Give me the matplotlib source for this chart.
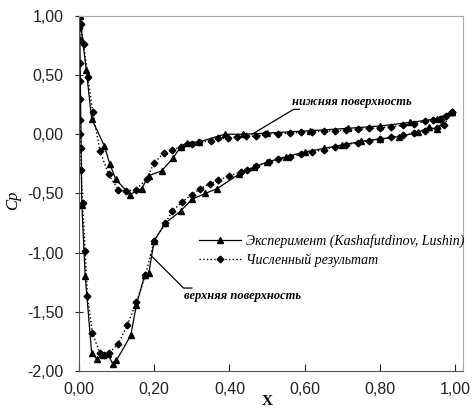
import matplotlib
matplotlib.use("Agg")
import matplotlib.pyplot as plt
from matplotlib.ticker import FuncFormatter, MultipleLocator

# эксперимент, нижняя поверхность
exp_low_x = [0.002, 0.02, 0.034, 0.068, 0.082, 0.098, 0.135, 0.167, 0.185, 0.22, 0.25,
             0.27, 0.286, 0.32, 0.387, 0.437, 0.50, 0.615, 0.715, 0.80, 0.88, 0.95, 0.99]
exp_low_y = [1.0, 0.54, 0.13, -0.10, -0.25, -0.38, -0.51, -0.46, -0.35, -0.31, -0.20,
             -0.11, -0.07, -0.065, 0.0, 0.0, 0.01, 0.03, 0.05, 0.07, 0.10, 0.13, 0.19]

# эксперимент, верхняя поверхность
exp_up_x = [0.002, 0.008, 0.017, 0.034, 0.048, 0.063, 0.077, 0.09, 0.10, 0.138, 0.153, 0.175,
            0.186, 0.2, 0.23, 0.27, 0.30, 0.336, 0.367, 0.424, 0.464, 0.50, 0.55, 0.60, 0.65,
            0.70, 0.75, 0.80, 0.85, 0.90, 0.93, 0.95, 0.99]
exp_up_y = [1.0, -0.6, -1.20, -1.845, -1.90, -1.87, -1.86, -1.94, -1.91, -1.70, -1.44, -1.19,
            -1.17, -0.90, -0.75, -0.65, -0.55, -0.50, -0.46, -0.34, -0.28, -0.235, -0.19, -0.15,
            -0.12, -0.09, -0.06, -0.04, -0.02, 0.015, 0.06, 0.04, 0.19]

# численный результат, нижняя поверхность
num_low_x = [0.0, 0.005, 0.013, 0.024, 0.037, 0.056, 0.079, 0.105, 0.125, 0.151, 0.18, 0.20,
             0.226, 0.248, 0.27, 0.30, 0.32, 0.35, 0.37, 0.395, 0.42, 0.445, 0.47, 0.495, 0.53,
             0.56, 0.59, 0.62, 0.65, 0.68, 0.71, 0.74, 0.77, 0.80, 0.83, 0.86, 0.89, 0.92,
             0.94, 0.96, 0.975, 0.99]
num_low_y = [1.0, 0.93, 0.76, 0.48, 0.19, -0.14, -0.34, -0.47, -0.48, -0.47, -0.38, -0.24,
             -0.16, -0.13, -0.11, -0.08, -0.065, -0.057, -0.035, -0.035, -0.02, -0.018, -0.015,
             0.0, 0.005, 0.01, 0.015, 0.02, 0.025, 0.03, 0.035, 0.04, 0.05, 0.055, 0.065, 0.075,
             0.09, 0.11, 0.12, 0.13, 0.15, 0.19]

# численный результат, верхняя поверхность
num_up_x = [0.0, 0.001, 0.002, 0.002, 0.003, 0.003, 0.004, 0.004, 0.005, 0.006, 0.01, 0.017,
            0.023, 0.036, 0.056, 0.067, 0.08, 0.105, 0.129, 0.153, 0.177, 0.2, 0.23, 0.248,
            0.275, 0.30, 0.323, 0.347, 0.37, 0.40, 0.43, 0.447, 0.47, 0.504, 0.53, 0.56, 0.59,
            0.62, 0.65, 0.68, 0.71, 0.74, 0.77, 0.80, 0.83, 0.86, 0.89, 0.92, 0.95, 0.97, 0.99]
num_up_y = [1.0, 0.9, 0.8, 0.6, 0.45, 0.3, 0.12, 0.0, -0.12, -0.3, -0.585, -0.99,
            -1.37, -1.68, -1.85, -1.865, -1.85, -1.77, -1.61, -1.42, -1.19, -0.90, -0.75, -0.65,
            -0.57, -0.51, -0.46, -0.42, -0.39, -0.35, -0.32, -0.30, -0.27, -0.235, -0.21, -0.19,
            -0.17, -0.15, -0.13, -0.11, -0.09, -0.07, -0.055, -0.04, -0.025, -0.01, 0.01, 0.03,
            0.05, 0.08, 0.19]

serif = "Liberation Serif"
fig = plt.figure(figsize=(4.72, 4.08), dpi=100)
ax = fig.add_axes([0.167, 0.091, 0.814, 0.870])

ax.plot(exp_low_x, exp_low_y, "-", color="black", lw=0.9, marker="^", ms=5,
        label="Эксперимент (Kashafutdinov, Lushin)")
ax.plot(exp_up_x, exp_up_y, "-", color="black", lw=0.9, marker="^", ms=5)
ax.plot(num_low_x, num_low_y, ":", color="black", lw=1.0, marker="D", ms=3.4,
        label="Численный результат")
ax.plot(num_up_x, num_up_y, ":", color="black", lw=1.0, marker="D", ms=3.4)

ax.set_xlim(0, 1.02)
ax.set_ylim(-2.0, 1.0)
ax.xaxis.set_major_locator(MultipleLocator(0.2))
ax.yaxis.set_major_locator(MultipleLocator(0.5))
fmt = FuncFormatter(lambda v, p: f"{v:.2f}".replace(".", ","))
ax.xaxis.set_major_formatter(fmt)
ax.yaxis.set_major_formatter(fmt)
ax.tick_params(axis="x", direction="in", length=5, pad=8, labelsize=11.5, colors="#222222")
ax.tick_params(axis="y", direction="inout", length=6, pad=8, labelsize=11.5, colors="#222222")
for lab in ax.get_xticklabels() + ax.get_yticklabels():
    lab.set_fontfamily("Liberation Sans")

for s in ["left", "bottom"]:
    ax.spines[s].set_color("#555555")
for s in ["top", "right"]:
    ax.spines[s].set_color("#aaaaaa")

ax.set_xlabel("X", fontfamily=serif, fontweight="bold", fontsize=11)
ax.xaxis.set_label_coords(0.49, -0.068)
ax.set_ylabel("Cp", fontfamily=serif, fontstyle="italic", fontsize=12)
ax.yaxis.set_label_coords(-0.15, 0.48)

# подписи поверхностей
ax.plot([0.46, 0.57, 0.585], [0.0, 0.21, 0.21], color="black", lw=0.9)
ax.text(0.565, 0.27, "нижняя поверхность", fontfamily=serif, fontstyle="italic",
        fontweight="bold", fontsize=9, va="center")
ax.plot([0.19, 0.278, 0.30], [-1.02, -1.30, -1.30], color="black", lw=0.9)
ax.text(0.278, -1.37, "верхняя поверхность", fontfamily=serif, fontstyle="italic",
        fontweight="bold", fontsize=9, va="center")

ax.legend(loc="upper left", bbox_to_anchor=(0.28, 0.42), frameon=False,
          prop={"family": serif, "style": "italic", "size": 10},
          handlelength=3.0, handletextpad=0.4, labelspacing=0.35)

fig.savefig("out.png", dpi=100)
